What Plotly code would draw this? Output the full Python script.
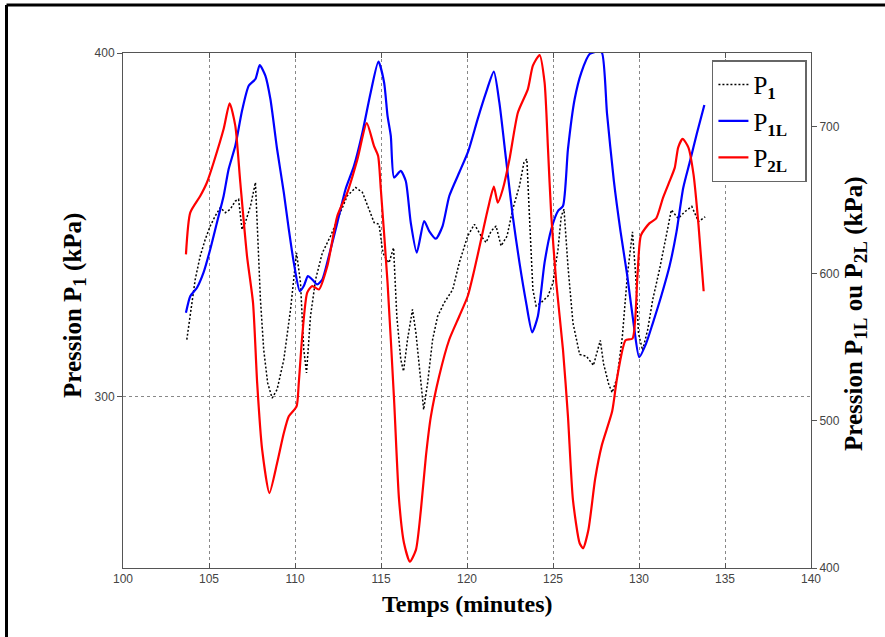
import plotly.graph_objects as go

# ---- data ----
p2l_t = [103.66,103.91,104.49,104.88,105.27,105.85,106.20,106.53,106.82,107.21,107.56,107.80,108.09,108.51,108.96,109.35,109.64,110.09,110.22,110.42,110.71,111.00,111.39,111.88,112.46,113.04,113.63,114.17,114.59,114.83,114.99,115.38,115.76,116.05,116.34,116.68,117.03,117.32,117.61,117.90,118.38,118.97,119.55,120.04,120.43,120.82,121.21,121.56,121.79,122.08,122.47,122.96,123.54,123.83,124.22,124.51,124.71,124.90,125.19,125.58,125.87,126.16,126.55,126.75,127.06,127.45,127.84,128.44,128.73,129.22,129.62,129.91,130.11,130.60,131.00,131.39,131.78,132.08,132.28,132.54,132.87,133.17,133.46,133.76]
p2l_v = [613.1,641.5,652.8,662.0,675.6,698.3,715.8,700.5,662.0,612.0,580.2,525.8,480.4,450.9,471.3,491.7,503.1,509.8,525.8,557.5,587.1,591.6,589.3,605.2,639.2,655.1,677.8,702.3,686.9,680.1,657.4,593.9,514.4,446.3,416.8,404.3,412.3,439.5,475.8,503.0,530.3,555.3,571.1,584.7,602.9,623.3,643.8,659.2,648.3,657.4,677.8,709.6,725.5,741.4,748.6,730.0,684.6,639.2,593.9,548.4,503.0,446.3,416.8,413.4,426.0,460.5,483.5,506.5,529.5,554.8,555.9,598.5,626.1,634.2,637.6,651.4,662.9,672.1,685.9,691.6,685.9,667.5,633.0,588.1]

p1l_t = [103.66,103.91,104.30,104.68,105.07,105.46,105.85,106.14,106.53,106.92,107.31,107.70,107.95,108.28,108.57,108.96,109.35,109.64,109.93,110.28,110.51,110.75,111.00,111.29,111.59,111.97,112.46,112.94,113.43,113.92,114.40,114.85,115.18,115.38,115.57,115.76,116.15,116.44,116.73,117.08,117.51,117.80,118.19,118.58,118.97,119.55,120.08,120.62,121.11,121.56,121.88,122.27,122.66,123.05,123.44,123.79,124.12,124.51,124.90,125.29,125.58,125.87,126.26,126.65,127.13,127.58,127.84,128.14,128.54,128.93,129.32,129.71,130.01,130.41,130.80,131.29,131.78,132.18,132.57,132.97,133.36,133.80]
p1l_v = [573.4,584.7,590.5,600.7,616.5,634.7,652.8,671.0,686.9,710.7,727.7,732.3,741.8,734.5,718.7,684.6,655.1,630.2,607.5,588.1,591.6,598.4,596.1,592.7,596.1,612.0,634.7,657.4,673.3,696.0,723.2,744.1,730.0,707.3,693.7,665.4,669.9,663.0,634.7,614.3,635.8,629.0,623.8,632.4,652.8,668.8,683.5,705.1,723.2,737.3,716.4,677.8,639.2,607.5,580.2,560.2,571.1,607.5,630.2,642.6,646.0,684.6,718.7,736.9,749.3,751.0,750.3,708.9,662.9,628.4,598.5,564.0,543.3,552.5,566.3,584.7,605.4,628.4,658.3,676.7,695.1,714.7]

p1_t = [103.71,103.81,104.01,104.20,104.49,104.78,105.07,105.36,105.66,105.95,106.24,106.53,106.72,106.92,107.11,107.41,107.70,107.83,107.99,108.18,108.41,108.67,108.96,109.35,109.74,110.09,110.32,110.51,110.67,110.90,111.20,111.59,112.07,112.55,113.04,113.53,113.92,114.30,114.60,114.89,115.08,115.18,115.47,115.73,115.92,116.15,116.31,116.54,116.83,117.03,117.28,117.48,117.71,118.00,118.29,118.68,119.17,119.55,120.04,120.43,120.82,121.11,121.40,121.69,121.98,122.33,122.66,123.05,123.31,123.48,123.63,123.83,124.02,124.31,124.71,125.00,125.29,125.48,125.64,125.87,126.16,126.55,126.94,127.35,127.75,127.94,128.24,128.44,128.73,129.03,129.32,129.62,129.81,129.97,130.21,130.50,130.80,131.20,131.59,131.88,132.28,132.67,133.07,133.46,133.85]
p1_v = [316.5,320.4,327.3,334.1,340.9,345.7,349.6,352.5,355.0,353.5,354.5,356.9,357.4,348.6,350.6,355.4,362.3,347.7,328.2,313.6,303.9,299.5,302.0,310.7,325.3,341.8,333.1,313.6,306.8,323.3,334.1,341.8,346.7,352.5,358.4,360.8,359.4,354.5,350.6,350.1,342.8,340.9,338.9,343.3,323.3,310.7,307.3,316.5,325.3,318.5,304.9,296.1,303.9,316.5,323.3,327.3,331.1,338.9,346.7,350.1,346.7,344.8,348.1,349.6,343.8,346.7,354.5,361.3,368.1,369.1,352.5,331.1,326.3,327.3,329.2,333.1,342.8,352.5,354.5,337.9,321.4,312.2,311.7,309.0,316.3,309.5,303.5,301.1,305.5,317.3,335.1,347.9,335.1,318.3,313.4,319.3,328.2,337.1,346.9,354.3,351.8,353.8,355.3,350.9,352.3]

x_ticks = [100, 105, 110, 115, 120, 125, 130, 135, 140]
left_ticks = [300, 400]
right_ticks = [400, 500, 600, 700]

SERIF = "Liberation Serif, Times New Roman, serif"
TICKFONT = dict(family="Liberation Sans Narrow, Arial Narrow, Liberation Sans, Arial", size=12, color="#444")
SUB = '<sub><b><span style="font-size:17px">{}</span></b></sub>'

fig = go.Figure()
fig.add_trace(go.Scatter(x=p1_t, y=p1_v, mode="lines", name="P" + SUB.format("1") + "  ",
                         legendgroup="a",
                         line=dict(color="black", width=1.5, dash="2px,2px"), yaxis="y"))
fig.add_trace(go.Scatter(x=p1l_t, y=p1l_v, mode="lines", name="P" + SUB.format("1L") + "  ",
                         legendgroup="b",
                         line=dict(color="#0000ff", width=2.2, shape="spline", smoothing=0.6), yaxis="y2"))
fig.add_trace(go.Scatter(x=p2l_t, y=p2l_v, mode="lines", name="P" + SUB.format("2L") + "  ",
                         legendgroup="c",
                         line=dict(color="#ff0000", width=2.2, shape="spline", smoothing=0.6), yaxis="y2"))

TSUB = '<sub><span style="font-size:19px">{}</span></sub>'

FX = (6.5 - 123) / 688
FY = (568 - 5) / 515

fig.update_layout(
    width=885, height=637,
    margin=dict(l=123, r=74, t=53, b=69),
    paper_bgcolor="white", plot_bgcolor="white",
    showlegend=True,
    legend=dict(x=0.856, y=0.986, xanchor="left", yanchor="top",
                bgcolor="white", bordercolor="#666", borderwidth=1.5,
                font=dict(family=SERIF, size=25, color="black"),
                tracegroupgap=1, itemwidth=30),
    xaxis=dict(range=[100, 140], tickvals=x_ticks, ticks="inside", ticklen=5,
               tickcolor="#555", showline=True, linecolor="#555", linewidth=1,
               mirror="ticks", showgrid=True, gridcolor="#888", griddash="dot",
               gridwidth=1, zeroline=False, tickfont=TICKFONT,
               automargin=False),
    yaxis=dict(range=[250, 400], tickvals=left_ticks, ticks="outside", ticklen=5,
               tickcolor="#555", showline=True, linecolor="#555", linewidth=1,
               showgrid=True, gridcolor="#888", griddash="dot", gridwidth=1,
               zeroline=False, tickfont=TICKFONT, automargin=False),
    yaxis2=dict(range=[400, 750], tickvals=right_ticks, overlaying="y", side="right",
                ticks="outside", ticklen=5, tickcolor="#555", showline=True,
                linecolor="#555", linewidth=1, showgrid=False, zeroline=False,
                tickfont=TICKFONT, automargin=False),
    annotations=[
        dict(text="<b>Temps (minutes)</b>", xref="paper", yref="paper",
             x=0.5, y=(568 - 604) / 515, xanchor="center", yanchor="middle",
             showarrow=False, font=dict(family=SERIF, size=24, color="black")),
        dict(text="<b>Pression P" + TSUB.format("1") + " (kPa)</b>", xref="paper", yref="paper",
             x=(74 - 123) / 688, y=(568 - 306) / 515, xanchor="center", yanchor="middle",
             textangle=-90, showarrow=False, font=dict(family=SERIF, size=25, color="black")),
        dict(text="<b>Pression P" + TSUB.format("1L") + " ou P" + TSUB.format("2L") + " (kPa)</b>",
             xref="paper", yref="paper",
             x=(855 - 123) / 688, y=(568 - 314) / 515, xanchor="center", yanchor="middle",
             textangle=-90, showarrow=False, font=dict(family=SERIF, size=25, color="black")),
    ],
    shapes=[
        dict(type="line", xref="paper", yref="paper", x0=FX, x1=FX, y0=-0.3, y1=FY,
             line=dict(color="black", width=3), layer="above"),
        dict(type="line", xref="paper", yref="paper", x0=FX, x1=1.3, y0=FY, y1=FY,
             line=dict(color="black", width=3), layer="above"),
    ],
)

fig.write_html("out.html", config={"displayModeBar": False},
               post_script="document.body.style.margin='0';document.body.style.padding='0';document.body.style.overflow='hidden';")
